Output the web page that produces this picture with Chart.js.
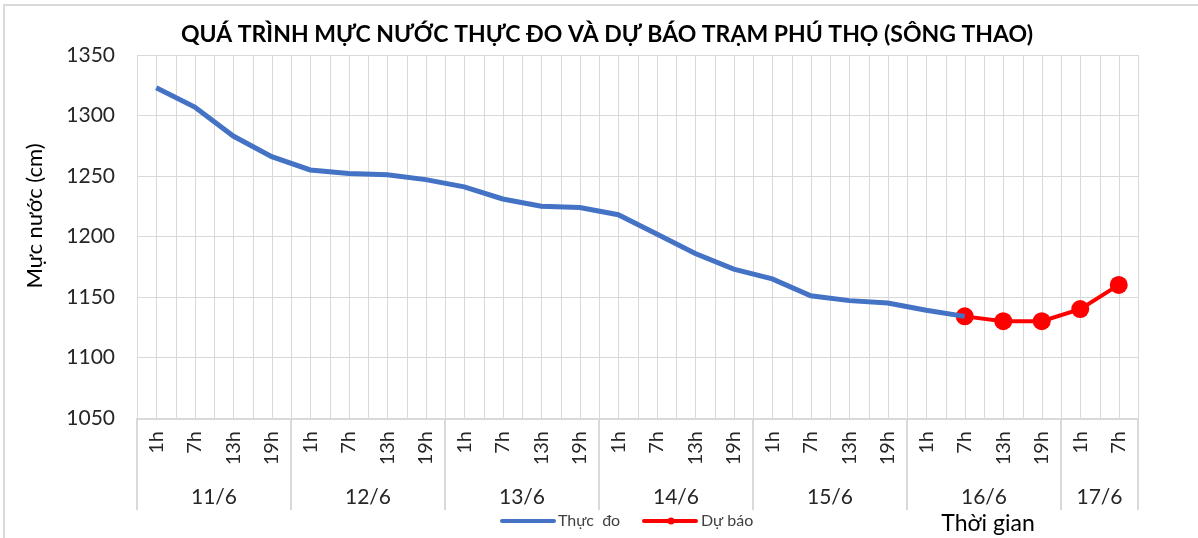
<!DOCTYPE html>
<html>
<head>
<meta charset="utf-8">
<script src="https://cdn.jsdelivr.net/npm/chart.js@4.4.1/dist/chart.umd.min.js"></script>
<style>
  html, body { margin: 0; padding: 0; background: #fff; }
  #wrap { width: 1198px; height: 538px; position: relative; }
</style>
</head>
<body>
<div id="wrap"><canvas id="chart" width="1198" height="538"></canvas></div>
<script>
const days = ["11/6", "12/6", "13/6", "14/6", "15/6", "16/6", "17/6"];
const hoursPerDay = [
  ["1h", "7h", "13h", "19h"],
  ["1h", "7h", "13h", "19h"],
  ["1h", "7h", "13h", "19h"],
  ["1h", "7h", "13h", "19h"],
  ["1h", "7h", "13h", "19h"],
  ["1h", "7h", "13h", "19h"],
  ["1h", "7h"],
];
const observed = [
  1323, 1307, 1283, 1266, 1255, 1252, 1251, 1247, 1241, 1231, 1225, 1224,
  1218, 1202, 1186, 1173, 1165, 1151, 1147, 1145, 1139, 1134,
  null, null, null, null,
];
const forecast = [
  null, null, null, null, null, null, null, null, null, null, null, null,
  null, null, null, null, null, null, null, null, null, 1134,
  1130, 1130, 1140, 1160,
];
const yTicks = [1050, 1100, 1150, 1200, 1250, 1300, 1350];

const labels = hoursPerDay.flat();
const FONT = "Lato, 'Open Sans', sans-serif";

const decorPlugin = {
  id: "decor",
  beforeDatasetsDraw(chart) {
    const ctx = chart.ctx;
    const x = chart.scales.x;
    const area = chart.chartArea;
    const step = x.getPixelForValue(1) - x.getPixelForValue(0);
    ctx.save();
    ctx.strokeStyle = "#d9d9d9";
    ctx.lineWidth = 1;
    for (let i = 0; i <= labels.length * 2; i++) {
      const px = Math.round(area.left + (i * step) / 2) + 0.5;
      ctx.beginPath();
      ctx.moveTo(px, area.top);
      ctx.lineTo(px, area.bottom);
      ctx.stroke();
    }
    ctx.restore();
  },
  afterDraw(chart) {
    const ctx = chart.ctx;
    const x = chart.scales.x;
    const area = chart.chartArea;
    const step = x.getPixelForValue(1) - x.getPixelForValue(0);
    ctx.save();

    // outer border
    ctx.strokeStyle = "#d9d9d9";
    ctx.lineWidth = 2;
    ctx.beginPath();
    ctx.moveTo(4, 545);
    ctx.lineTo(4, 5);
    ctx.lineTo(1205, 5);
    ctx.stroke();

    // axis box + group separators
    ctx.lineWidth = 2;
    ctx.beginPath();
    ctx.moveTo(area.left, area.bottom + 1);
    ctx.lineTo(area.right, area.bottom + 1);
    ctx.stroke();
    let idx = 0;
    const bounds = [area.left];
    hoursPerDay.forEach((h) => {
      idx += h.length;
      bounds.push(area.left + idx * step);
    });
    bounds.forEach((b) => {
      ctx.beginPath();
      ctx.moveTo(Math.round(b), area.bottom);
      ctx.lineTo(Math.round(b), 510);
      ctx.stroke();
    });

    // day labels
    ctx.fillStyle = "#262626";
    ctx.font = "21px " + FONT;
    ctx.textAlign = "center";
    ctx.textBaseline = "middle";
    days.forEach((d, i) => {
      ctx.fillText(d, (bounds[i] + bounds[i + 1]) / 2, 497);
    });

    // axis titles
    ctx.fillStyle = "#000";
    ctx.font = "23px " + FONT;
    ctx.fillText("Thời gian", 988, 524);
    ctx.font = "22px " + FONT;
    ctx.save();
    ctx.translate(35, 216);
    ctx.rotate(-Math.PI / 2);
    ctx.fillText("Mực nước (cm)", 0, 0);
    ctx.restore();

    // title
    ctx.font = "bold 23px " + FONT;
    ctx.fillText("QUÁ TRÌNH MỰC NƯỚC THỰC ĐO VÀ DỰ BÁO TRẠM PHÚ THỌ (SÔNG THAO)", 607, 35);

    // legend
    ctx.lineWidth = 4;
    ctx.lineCap = "round";
    ctx.strokeStyle = "#4472C4";
    ctx.beginPath();
    ctx.moveTo(502, 521);
    ctx.lineTo(554, 521);
    ctx.stroke();
    ctx.strokeStyle = "#FF0000";
    ctx.beginPath();
    ctx.moveTo(644, 521);
    ctx.lineTo(696, 521);
    ctx.stroke();
    ctx.fillStyle = "#FF0000";
    ctx.beginPath();
    ctx.arc(671, 521, 3.5, 0, Math.PI * 2);
    ctx.fill();
    ctx.fillStyle = "#404040";
    ctx.font = "16px " + FONT;
    ctx.textAlign = "left";
    ctx.fillText("Thực  đo", 558, 521);
    ctx.fillText("Dự báo", 701, 521);

    ctx.restore();
  },
};

new Chart(document.getElementById("chart"), {
  type: "line",
  data: {
    labels: labels,
    datasets: [
      {
        label: "Thực đo",
        data: observed,
        borderColor: "#4472C4",
        backgroundColor: "#4472C4",
        borderWidth: 5,
        pointRadius: 0,
        tension: 0,
        spanGaps: false,
      },
      {
        label: "Dự báo",
        data: forecast,
        borderColor: "#FF0000",
        backgroundColor: "#FF0000",
        borderWidth: 4,
        pointRadius: 9,
        pointBorderWidth: 0,
        tension: 0,
        spanGaps: false,
      },
    ],
  },
  options: {
    responsive: false,
    animation: false,
    layout: { padding: { top: 55, right: 60, bottom: 0, left: 0 } },
    plugins: {
      legend: { display: false },
      title: { display: false },
      tooltip: { enabled: false },
    },
    scales: {
      x: {
        offset: true,
        grid: { display: false, drawTicks: false },
        border: { display: false },
        ticks: {
          autoSkip: false,
          minRotation: 90,
          maxRotation: 90,
          padding: 13,
          color: "#262626",
          font: { family: FONT, size: 20 },
        },
        afterFit(scale) {
          scale.height = 120;
        },
      },
      y: {
        min: 1050,
        max: 1350,
        afterBuildTicks(scale) {
          scale.ticks = yTicks.map((v) => ({ value: v }));
        },
        grid: { color: "#d9d9d9", drawTicks: false },
        border: { display: false },
        ticks: {
          padding: 22,
          color: "#262626",
          font: { family: FONT, size: 21 },
          callback: (v) => String(v),
        },
        afterFit(scale) {
          scale.width = 137;
        },
      },
    },
  },
  plugins: [decorPlugin],
});
</script>
</body>
</html>
